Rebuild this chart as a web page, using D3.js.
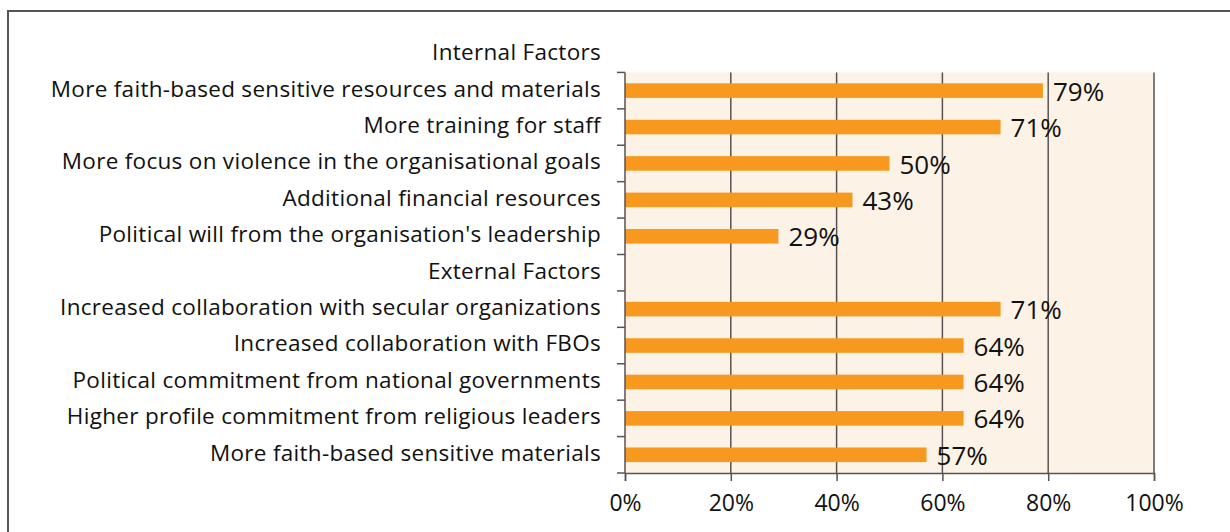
<!DOCTYPE html>
<html>
<head>
<meta charset="utf-8">
<script src="https://cdn.jsdelivr.net/npm/d3@7.9.0/dist/d3.min.js"></script>
<style>
  html, body { margin: 0; padding: 0; background: #fff; }
  svg { display: block; font-family: "Open Sans", Lato, sans-serif; }
</style>
</head>
<body>
<svg id="chart" width="1230" height="532"></svg>
<script>
// chart data, top to bottom
const categories = [
  'Internal Factors',
  'More faith-based sensitive resources and materials',
  'More training for staff',
  'More focus on violence in the organisational goals',
  'Additional financial resources',
  "Political will from the organisation's leadership",
  'External Factors',
  'Increased collaboration with secular organizations',
  'Increased collaboration with FBOs',
  'Political commitment from national governments',
  'Higher profile commitment from religious leaders',
  'More faith-based sensitive materials'
];
const values = [null, 79, 71, 50, 43, 29, null, 71, 64, 64, 64, 57];
const xTicks = [0, 20, 40, 60, 80, 100];

const svg = d3.select('#chart');
const margin = { left: 625, right: 76, top: 36, bottom: 59 };
const W = 1230, H = 532;

// outer frame (only left and top edges are in view)
svg.append('path')
  .attr('d', `M8,${H} V11 H${W}`)
  .attr('fill', 'none')
  .attr('stroke', '#555')
  .attr('stroke-width', 2);

const x = d3.scaleLinear().domain([0, 100]).range([margin.left, W - margin.right]);
const y = d3.scaleBand().domain(categories)
  .range([margin.top, H - margin.bottom])
  .paddingInner(0.6).paddingOuter(0.3);

// the first band (heading) sits above the plot area
const step = y.step();
const plotBottom = H - margin.bottom;
const plotTop = plotBottom - step * (categories.length - 1);

svg.append('rect')
  .attr('x', x(0)).attr('y', plotTop)
  .attr('width', x(100) - x(0)).attr('height', plotBottom - plotTop)
  .attr('fill', '#FDF2E6');

// vertical gridlines
svg.append('g')
  .selectAll('line')
  .data(xTicks.slice(1))
  .join('line')
  .attr('x1', d => x(d)).attr('x2', d => x(d))
  .attr('y1', plotTop).attr('y2', plotBottom)
  .attr('stroke', '#5a5252').attr('stroke-width', 1.5);

const rows = categories.map((c, i) => ({ c, v: values[i] })).filter(d => d.v != null);

// bars
svg.append('g')
  .selectAll('rect')
  .data(rows)
  .join('rect')
  .attr('x', x(0))
  .attr('y', d => y(d.c))
  .attr('width', d => x(d.v) - x(0))
  .attr('height', y.bandwidth())
  .attr('fill', '#F7981F');

// value labels
svg.append('g')
  .selectAll('text')
  .data(rows)
  .join('text')
  .attr('x', d => x(d.v) + 10)
  .attr('y', d => y(d.c) + y.bandwidth() / 2 + 1)
  .attr('dy', '0.35em')
  .attr('font-size', 26)
  .attr('fill', '#111')
  .text(d => d.v + '%');

// x axis
const xAxis = svg.append('g')
  .attr('transform', `translate(0,${plotBottom})`)
  .call(d3.axisBottom(x).tickValues(xTicks).tickSize(8).tickFormat(d => d + '%'));
xAxis.select('.domain').attr('stroke', '#5a5252').attr('stroke-width', 1.5);
xAxis.selectAll('.tick line').attr('stroke', '#5a5252').attr('stroke-width', 1.5);
xAxis.selectAll('.tick text')
  .attr('font-size', 23).attr('fill', '#111')
  .attr('font-family', '"Open Sans", sans-serif')
  .attr('y', 22);

// y axis: tick marks at band edges
const edges = d3.range(categories.length).map(i => plotBottom - step * i);
svg.append('line')
  .attr('x1', x(0)).attr('x2', x(0)).attr('y1', plotTop).attr('y2', plotBottom)
  .attr('stroke', '#5a5252').attr('stroke-width', 1.5);
svg.append('g')
  .selectAll('line')
  .data(edges)
  .join('line')
  .attr('x1', x(0) - 8).attr('x2', x(0))
  .attr('y1', d => d).attr('y2', d => d)
  .attr('stroke', '#5a5252').attr('stroke-width', 1.5);

// category labels
svg.append('g')
  .selectAll('text')
  .data(categories)
  .join('text')
  .attr('x', x(0) - 24)
  .attr('y', d => y(d) + y.bandwidth() / 2 - 2)
  .attr('dy', '0.35em')
  .attr('text-anchor', 'end')
  .attr('font-size', 22.5)
  .attr('letter-spacing', 0.3)
  .attr('fill', '#111')
  .text(d => d);
</script>
</body>
</html>
